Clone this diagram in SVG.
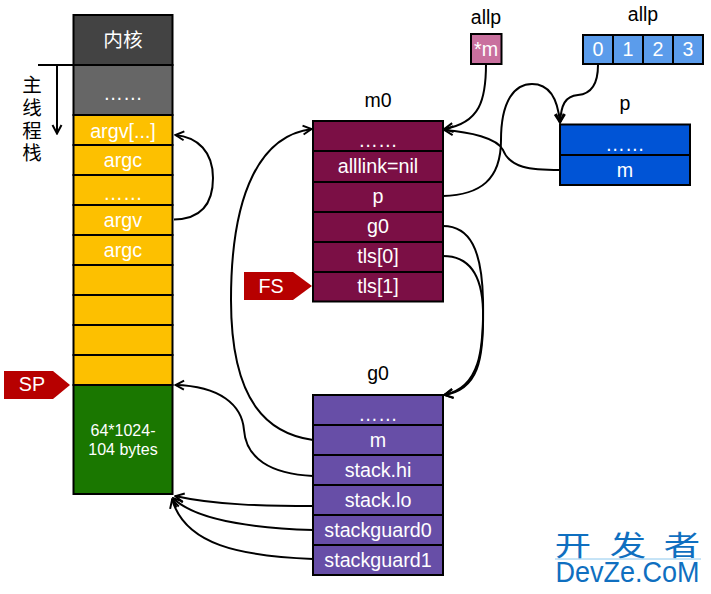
<svg xmlns="http://www.w3.org/2000/svg" width="711" height="594" viewBox="0 0 711 594">
<style>
text{font-family:"Liberation Sans",Arial,"Noto Sans CJK SC",sans-serif;text-anchor:middle}
.c{fill:#fff;font-size:19.700px}
.k{fill:#000;font-size:19.500px}
.r{stroke:#000;stroke-width:2}
.y{fill:#fdc000}.m{fill:#7b0f45}.g{fill:#674ea7}.b{fill:#0054d6}.l{fill:#5b9ceb}
.f{fill:#b70000}
path.a{fill:none;stroke:#000;stroke-width:2}
</style>
<defs>
<marker id="h" viewBox="0 0 12 12" refX="11" refY="6" markerWidth="12" markerHeight="12" markerUnits="userSpaceOnUse" orient="auto"><path d="M2 1.500 L10.500 6 L2 10.500" fill="none" stroke="#000" stroke-width="2"/></marker>
</defs>
<rect width="711" height="594" fill="#fff"/>
<g id="stack">
<rect class="r" x="73.500" y="15" width="99" height="50" fill="#434343"/>
<rect class="r" x="73.500" y="65" width="99" height="50" fill="#666"/>
<rect class="r y" x="73.500" y="115" width="99" height="30"/>
<rect class="r y" x="73.500" y="145" width="99" height="30"/>
<rect class="r y" x="73.500" y="175" width="99" height="30"/>
<rect class="r y" x="73.500" y="205" width="99" height="30"/>
<rect class="r y" x="73.500" y="235" width="99" height="30"/>
<rect class="r y" x="73.500" y="265" width="99" height="30"/>
<rect class="r y" x="73.500" y="295" width="99" height="30"/>
<rect class="r y" x="73.500" y="325" width="99" height="30"/>
<rect class="r y" x="73.500" y="355" width="99" height="30"/>
<rect class="r" x="73.500" y="385" width="99" height="109" fill="#1a7700"/>
<text class="c" x="123" y="47">内核</text>
<text class="c" x="123" y="100">……</text>
<text class="c" x="123" y="138">argv[...]</text>
<text class="c" x="123" y="167">argc</text>
<text class="c" x="123" y="200">……</text>
<text class="c" x="123" y="227">argv</text>
<text class="c" x="123" y="257">argc</text>
<text x="123" y="436" fill="#fff" font-size="16">64*1024-</text>
<text x="123" y="455" fill="#fff" font-size="16">104 bytes</text>
</g>
<g id="main-thread-stack">
<text class="k" x="32" y="92">主</text>
<text class="k" x="32" y="115">线</text>
<text class="k" x="32" y="138">程</text>
<text class="k" x="32" y="160">栈</text>
</g>
<g id="sp"><polygon class="f" points="4,371 53,371 70,385 53,399 4,399"/><text class="c" x="32" y="391">SP</text></g>
<g id="fs"><polygon class="f" points="244,272 293,272 312,286 293,300 244,300"/><text class="c" x="271" y="293">FS</text></g>
<g id="m0">
<text class="k" x="378" y="107">m0</text>
<rect class="r m" x="313" y="121" width="130" height="30"/>
<rect class="r m" x="313" y="151" width="130" height="31"/>
<rect class="r m" x="313" y="182" width="130" height="30"/>
<rect class="r m" x="313" y="212" width="130" height="30"/>
<rect class="r m" x="313" y="242" width="130" height="30"/>
<rect class="r m" x="313" y="272" width="130" height="29.500"/>
<text class="c" x="378" y="147">……</text>
<text class="c" x="378" y="173">alllink=nil</text>
<text class="c" x="378" y="203">p</text>
<text class="c" x="378" y="233">g0</text>
<text class="c" x="378" y="263">tls[0]</text>
<text class="c" x="378" y="293">tls[1]</text>
</g>
<g id="g0">
<text class="k" x="378" y="380">g0</text>
<rect class="r g" x="313" y="395" width="130" height="30"/>
<rect class="r g" x="313" y="425" width="130" height="30"/>
<rect class="r g" x="313" y="455" width="130" height="30"/>
<rect class="r g" x="313" y="485" width="130" height="30"/>
<rect class="r g" x="313" y="515" width="130" height="30"/>
<rect class="r g" x="313" y="545" width="130" height="30"/>
<text class="c" x="378" y="421">……</text>
<text class="c" x="378" y="447">m</text>
<text class="c" x="378" y="477">stack.hi</text>
<text class="c" x="378" y="507">stack.lo</text>
<text class="c" x="378" y="537">stackguard0</text>
<text class="c" x="378" y="567">stackguard1</text>
</g>
<g id="p">
<text class="k" x="625" y="110">p</text>
<rect class="r b" x="560" y="124.500" width="130" height="30.500"/>
<rect class="r b" x="560" y="155" width="130" height="30"/>
<text class="c" x="625" y="151">……</text>
<text class="c" x="625" y="177">m</text>
</g>
<g id="allp-m">
<text class="k" x="486" y="24">allp</text>
<rect class="r" x="471" y="34" width="30.500" height="30" fill="#c9709e"/>
<text class="c" x="486" y="56">*m</text>
</g>
<g id="allp-array">
<text class="k" x="643" y="21">allp</text>
<rect class="r l" x="583" y="35" width="30" height="29"/>
<rect class="r l" x="613" y="35" width="30" height="29"/>
<rect class="r l" x="643" y="35" width="30" height="29"/>
<rect class="r l" x="673" y="35" width="30" height="29"/>
<text class="c" x="598" y="56">0</text>
<text class="c" x="628" y="56">1</text>
<text class="c" x="658" y="56">2</text>
<text class="c" x="688" y="56">3</text>
</g>
<g id="connectors">
<path d="M38 65H73" fill="none" stroke="#000" stroke-width="2"/>
<path d="M57 65V134" fill="none" stroke="#000" stroke-width="2" marker-end="url(#h)"/>
<path class="a" d="M174 219.500C200 219 213 205 213 178C213 152 198 137 175 135" marker-end="url(#h)"/>
<path class="a" d="M313 440C270 434 231 405 231 300C231 190 262 135 312 129" marker-end="url(#h)"/>
<path class="a" d="M313 476C270 474 246 458 244 430C242 405 220 386 175 385" marker-end="url(#h)"/>
<path class="a" d="M313 506C265 506 215 505 175 496" marker-end="url(#h)"/>
<path class="a" d="M313 530C250 528 195 520 173 498" marker-end="url(#h)"/>
<path class="a" d="M313 559C240 556 185 545 172 499" marker-end="url(#h)"/>
<path class="a" d="M486 64C486 100 480 123 444 129" marker-end="url(#h)"/>
<path class="a" d="M560 170C530 170 510 168 503 150C497 138 470 132 444 130" marker-end="url(#h)"/>
<path class="a" d="M443 196C480 195 501 180 501 140C501 100 515 84 532 84C550 84 558 100 560 123" marker-end="url(#h)"/>
<path class="a" d="M598 65C598 85 590 94 578 95C565 96 561 105 560 123" marker-end="url(#h)"/>
<path class="a" d="M443 226C470 226 482 250 483 300C484 350 480 388 444 395" marker-end="url(#h)"/>
<path class="a" d="M443 256C470 256 482 275 483 310C484 360 478 390 444 395" marker-end="url(#h)"/>
</g>
<g id="watermark">
<text transform="scale(1.3 1)" x="440.800 483 524.600" y="556" font-size="28" fill="#0f6fc0" style="font-family:'Noto Sans CJK SC',sans-serif">开发者</text>
<path d="M555 559H701" stroke="#8cc8ee" stroke-width="1"/>
<text x="627.500" y="582" font-size="29" fill="#0f6fc0" textLength="144" lengthAdjust="spacingAndGlyphs">DevZe.CoM</text>
</g>
</svg>
